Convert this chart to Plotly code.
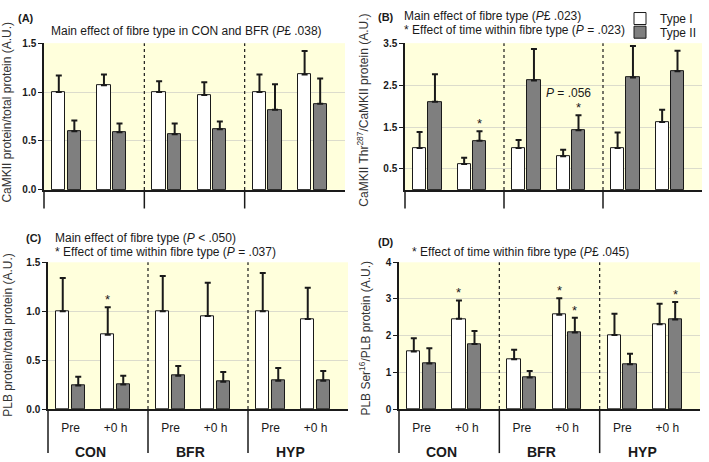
import plotly.graph_objects as go

groups = ["CON", "BFR", "HYP"]
times = ["Pre", "+0 h"]

# (A) CaMKII protein
a_type1 = [1.00, 1.07, 1.00, 0.97, 1.00, 1.18]
a_type1_err = [0.17, 0.11, 0.11, 0.13, 0.18, 0.24]
a_type2 = [0.60, 0.59, 0.57, 0.62, 0.82, 0.88]
a_type2_err = [0.11, 0.09, 0.11, 0.08, 0.26, 0.26]

# (B) CaMKII Thr287
b_type1 = [1.00, 0.62, 1.00, 0.80, 1.00, 1.62]
b_type1_err = [0.38, 0.15, 0.19, 0.16, 0.37, 0.29]
b_type2 = [2.10, 1.17, 2.61, 1.42, 2.68, 2.83]
b_type2_err = [0.66, 0.23, 0.75, 0.36, 0.75, 0.49]

# (C) PLB protein
c_type1 = [1.00, 0.76, 1.00, 0.95, 1.00, 0.92]
c_type1_err = [0.34, 0.28, 0.36, 0.34, 0.39, 0.32]
c_type2 = [0.24, 0.25, 0.34, 0.28, 0.29, 0.29]
c_type2_err = [0.09, 0.09, 0.10, 0.10, 0.13, 0.10]

# (D) PLB Ser16
d_type1 = [1.57, 2.46, 1.36, 2.57, 2.02, 2.31]
d_type1_err = [0.36, 0.50, 0.26, 0.45, 0.58, 0.56]
d_type2 = [1.24, 1.77, 0.86, 2.09, 1.22, 2.44]
d_type2_err = [0.42, 0.36, 0.18, 0.40, 0.29, 0.48]

# significance stars: (series, index)
b_stars = [(2, 1), (2, 3)]
c_stars = [(1, 1)]
d_stars = [(1, 1), (1, 3), (2, 3), (2, 5)]

FONT = "Liberation Sans, Arial, sans-serif"
INK = "#1a1a1a"
BG = "#FFFFDC"
GRID = "#DCDCCC"
W, H = 709, 462

# slot positions: group g, time t
slots = [2 * g + 0.45 + 0.9 * t for g in range(3) for t in range(2)]
x1 = [s - 0.155 for s in slots]
x2 = [s + 0.155 for s in slots]

fig = go.Figure()

panels = [
    dict(k="", xd=(44, 345), yd=(39, 189), d=(a_type1, a_type1_err, a_type2, a_type2_err),
         yr=[0, 1.5], tv=[0, 0.5, 1.0, 1.5], tt=["0.0", "0.5", "1.0", "1.5"],
         yt="CaMKII protein/total protein (A.U.)", tx=7, ty=110, stars=[], labels=False),
    dict(k="2", xd=(405, 702), yd=(39, 189), d=(b_type1, b_type1_err, b_type2, b_type2_err),
         yr=[0, 3.5], tv=[0.5, 1.5, 2.5, 3.5], tt=["0.5", "1.5", "2.5", "3.5"],
         yt="CaMKII Thr<sup>287</sup>/CaMKII protein (A.U.)", tx=363, ty=108,
         stars=b_stars, labels=False),
    dict(k="3", xd=(48, 348), yd=(263, 413), d=(c_type1, c_type1_err, c_type2, c_type2_err),
         yr=[0, 1.5], tv=[0, 0.5, 1.0, 1.5], tt=["0.0", "0.5", "1.0", "1.5"],
         yt="PLB protein/total protein (A.U.)", tx=8, ty=338, stars=c_stars, labels=True),
    dict(k="4", xd=(399, 700), yd=(263, 413), d=(d_type1, d_type1_err, d_type2, d_type2_err),
         yr=[0, 4], tv=[0, 1, 2, 3, 4], tt=["0", "1", "2", "3", "4"],
         yt="PLB Ser<sup>16</sup>/PLB protein (A.U.)", tx=365, ty=341,
         stars=d_stars, labels=True),
]

shapes = []
annotations = []
layout = {}

for i, p in enumerate(panels):
    k = p["k"]
    xa, ya = "x" + k, "y" + k
    t1, e1, t2, e2 = p["d"]
    for name, xs, ys, es, fill, leg in [("Type I", x1, t1, e1, "white", "legend"),
                                        ("Type II", x2, t2, e2, "#7f7f7f", "legend2")]:
        fig.add_trace(go.Bar(
            x=xs, y=ys, width=0.265, name=name, legendgroup=name, legend=leg,
            showlegend=(i == 0), xaxis=xa, yaxis=ya,
            marker=dict(color=fill, line=dict(color=INK, width=1)),
            error_y=dict(type="data", array=es, arrayminus=[0] * len(es),
                         symmetric=False, color=INK, thickness=2, width=3),
        ))
    layout["xaxis" + k] = dict(
        domain=[p["xd"][0] / W, p["xd"][1] / W], anchor=ya, range=[0, 6],
        showgrid=False, zeroline=False, showline=True, linecolor=INK, linewidth=1.5,
        tickvals=slots if p["labels"] else [], ticktext=times * 3,
        ticks="outside" if p["labels"] else "", ticklen=7, tickcolor="rgba(0,0,0,0)",
        showticklabels=p["labels"], tickfont=dict(size=12, color=INK), fixedrange=True,
    )
    layout["yaxis" + k] = dict(
        domain=[1 - p["yd"][1] / H, 1 - p["yd"][0] / H], anchor=xa, range=p["yr"],
        tickvals=p["tv"], ticktext=p["tt"], ticks="outside", ticklen=4, tickcolor=INK,
        tickfont=dict(size=10, color=INK, weight=700),
        showline=True, linecolor=INK, linewidth=1.5, zeroline=False,
        showgrid=True, gridcolor=GRID, gridwidth=1, fixedrange=True,
    )
    # y title as rotated text, placed where the reference puts it
    annotations.append(dict(text=p["yt"], xref="paper", yref="paper", textangle=-90,
                            x=p["tx"] / W, y=1 - p["ty"] / H, xanchor="center",
                            yanchor="middle", showarrow=False,
                            font=dict(size=12, color="#333333")))
    drop = 19 / 150 if not p["labels"] else 45 / 150
    for j, xd in enumerate([0, 1 / 3, 2 / 3]):
        shapes.append(dict(type="line", xref=xa + " domain", yref=ya + " domain",
                           x0=xd, x1=xd, y0=0, y1=-drop, line=dict(color=INK, width=1.5)))
        if j > 0:
            shapes.append(dict(type="line", xref=xa + " domain", yref=ya + " domain",
                               x0=xd, x1=xd, y0=0, y1=1, layer="above",
                               line=dict(color=INK, width=1.2, dash="dot")))
    if p["labels"]:
        for g, name in enumerate(groups):
            annotations.append(dict(text="<b>%s</b>" % name, xref=xa, yref=ya + " domain",
                                    x=2 * g + 0.85, y=-44 / 150, showarrow=False,
                                    font=dict(size=14, color=INK), yanchor="middle"))
    for series, idx in p["stars"]:
        xs = x1 if series == 1 else x2
        top = (t1[idx] + e1[idx]) if series == 1 else (t2[idx] + e2[idx])
        annotations.append(dict(text="*", xref=xa, yref=ya, x=xs[idx], y=top,
                                yanchor="bottom", showarrow=False, yshift=-2,
                                font=dict(size=13, color=INK)))

# P = .056 note in panel B
annotations.append(dict(text="<i>P</i> = .056", xref="x2", yref="y2", x=3.3, y=2.31,
                        showarrow=False, font=dict(size=12, color=INK)))


def note(text, x, y, size=12, bold=False):
    annotations.append(dict(text="<b>%s</b>" % text if bold else text, xref="paper",
                            yref="paper", x=x / W, y=1 - y / H, xanchor="left",
                            yanchor="middle", showarrow=False,
                            font=dict(size=size, color=INK)))


note("(A)", 16, 13, 11, True)
note("(B)", 376, 12, 11, True)
note("(C)", 24, 238, 11, True)
note("(D)", 376, 242, 11, True)
note("Main effect of fibre type in CON and BFR (<i>P</i>£ .038)", 49, 27)
note("Main effect of fibre type (<i>P</i>£ .023)", 402, 11)
note("* Effect of time within fibre type (<i>P</i> = .023)", 402, 26)
note("Main effect of fibre type (<i>P</i> &lt; .050)", 53, 238)
note("* Effect of time within fibre type (<i>P</i> = .037)", 53, 252)
note("* Effect of time within fibre type (<i>P</i>£ .045)", 410, 252)

legend_style = dict(xanchor="left", yanchor="top", bgcolor="rgba(0,0,0,0)",
                    font=dict(size=12, color=INK), borderwidth=0,
                    itemwidth=30, tracegroupgap=0)

fig.update_layout(
    width=W, height=H, margin=dict(l=0, r=0, t=0, b=0),
    paper_bgcolor="white", plot_bgcolor=BG,
    font=dict(family=FONT, color=INK),
    barmode="overlay", bargap=0,
    shapes=shapes, annotations=annotations,
    legend=dict(x=620 / W, y=1 + 1 / H, **legend_style),
    legend2=dict(x=620 / W, y=1 - 13 / H, **legend_style),
    **layout,
)

# page body has a default 8px margin; drop it so the figure sits at the corner
fig.write_html("out.html", config={"displayModeBar": False},
               post_script="document.body.style.margin='0';")
